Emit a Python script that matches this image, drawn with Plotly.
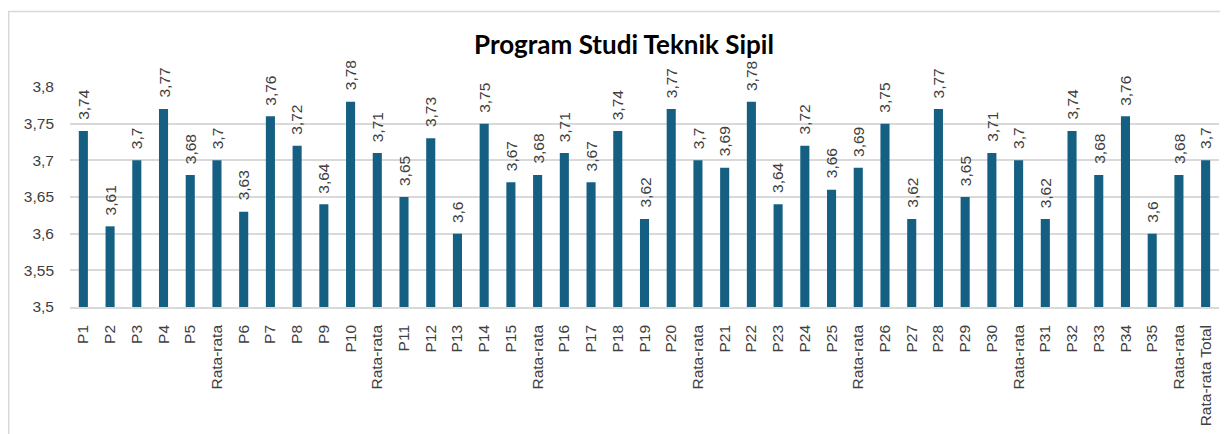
import plotly.graph_objects as go

categories = ["P1", "P2", "P3", "P4", "P5", "Rata-rata",
              "P6", "P7", "P8", "P9", "P10", "Rata-rata",
              "P11", "P12", "P13", "P14", "P15", "Rata-rata",
              "P16", "P17", "P18", "P19", "P20", "Rata-rata",
              "P21", "P22", "P23", "P24", "P25", "Rata-rata",
              "P26", "P27", "P28", "P29", "P30", "Rata-rata",
              "P31", "P32", "P33", "P34", "P35", "Rata-rata",
              "Rata-rata Total"]
values = [3.74, 3.61, 3.70, 3.77, 3.68, 3.70,
          3.63, 3.76, 3.72, 3.64, 3.78, 3.71,
          3.65, 3.73, 3.60, 3.75, 3.67, 3.68,
          3.71, 3.67, 3.74, 3.62, 3.77, 3.70,
          3.69, 3.78, 3.64, 3.72, 3.66, 3.69,
          3.75, 3.62, 3.77, 3.65, 3.71, 3.70,
          3.62, 3.74, 3.68, 3.76, 3.60, 3.68,
          3.70]
y_ticks = [3.5, 3.55, 3.6, 3.65, 3.7, 3.75, 3.8]
y_ticktext = ["3,5", "3,55", "3,6", "3,65", "3,7", "3,75", "3,8"]
title_text = "Program Studi Teknik Sipil"
y_base = 3.5

# the page body adds an 8px margin, so the figure is sized to fit the window
W, H = 1220, 426
ML, MR, MT, MB = 62, 8.6, 79, 127
FONT = "Liberation Sans, Arial, sans-serif"
TXT = "#404040"
BAR = "#156082"

xs = list(range(len(categories)))

def fmt(v):
    s = ("%.2f" % v).rstrip("0").rstrip(".")
    return s.replace(".", ",")

fig = go.Figure(go.Bar(
    x=xs, y=[v - y_base for v in values], base=y_base,
    marker=dict(color=BAR, line=dict(width=0)), hoverinfo="skip",
))

annotations = []
for xi, v in zip(xs, values):
    annotations.append(dict(
        x=xi, y=v, xref="x", yref="y", text=fmt(v), showarrow=False,
        textangle=-90, yanchor="bottom", xanchor="center", yshift=9,
        font=dict(family=FONT, size=15.5, color=TXT),
    ))

pw = W - ML - MR
ph = H - MT - MB
def px_x(p):
    return (p - ML) / pw
def px_y(p):
    return 1 - (p - MT) / ph

fig.update_layout(
    width=W, height=H,
    margin=dict(l=ML, r=MR, t=MT, b=MB, pad=0, autoexpand=False),
    paper_bgcolor="white", plot_bgcolor="white",
    bargap=0.66, showlegend=False,
    title=dict(text="<b>" + title_text + "</b>", x=616 / W, xref="container",
               xanchor="center", y=1 - 37 / H, yref="container", yanchor="middle",
               font=dict(family="Lato, Open Sans, sans-serif", size=26, color="#000000")),
    annotations=annotations,
    shapes=[dict(type="rect", xref="paper", yref="paper",
                 x0=px_x(0.75), x1=px_x(W + 10), y0=px_y(H + 10), y1=px_y(3.5),
                 line=dict(color="#d9d9d9", width=1.5), fillcolor="rgba(0,0,0,0)", layer="below")],
    xaxis=dict(range=[-0.5, len(categories) - 0.5], tickmode="array", tickvals=xs,
               ticktext=categories, tickangle=-90, showgrid=False, zeroline=False,
               showline=True, linecolor="#d9d9d9", linewidth=1.5, ticks="",
               ticklabelstandoff=10, automargin=False,
               tickfont=dict(family=FONT, size=15.5, color=TXT)),
    yaxis=dict(range=[3.5, 3.8], tickmode="array", tickvals=y_ticks, ticktext=y_ticktext,
               showgrid=True, gridcolor="#d9d9d9", gridwidth=1.5, zeroline=False,
               showline=False, ticks="", ticklabelstandoff=15, automargin=False,
               tickfont=dict(family=FONT, size=15.5, color=TXT)),
)

fig.write_html("out.html")
